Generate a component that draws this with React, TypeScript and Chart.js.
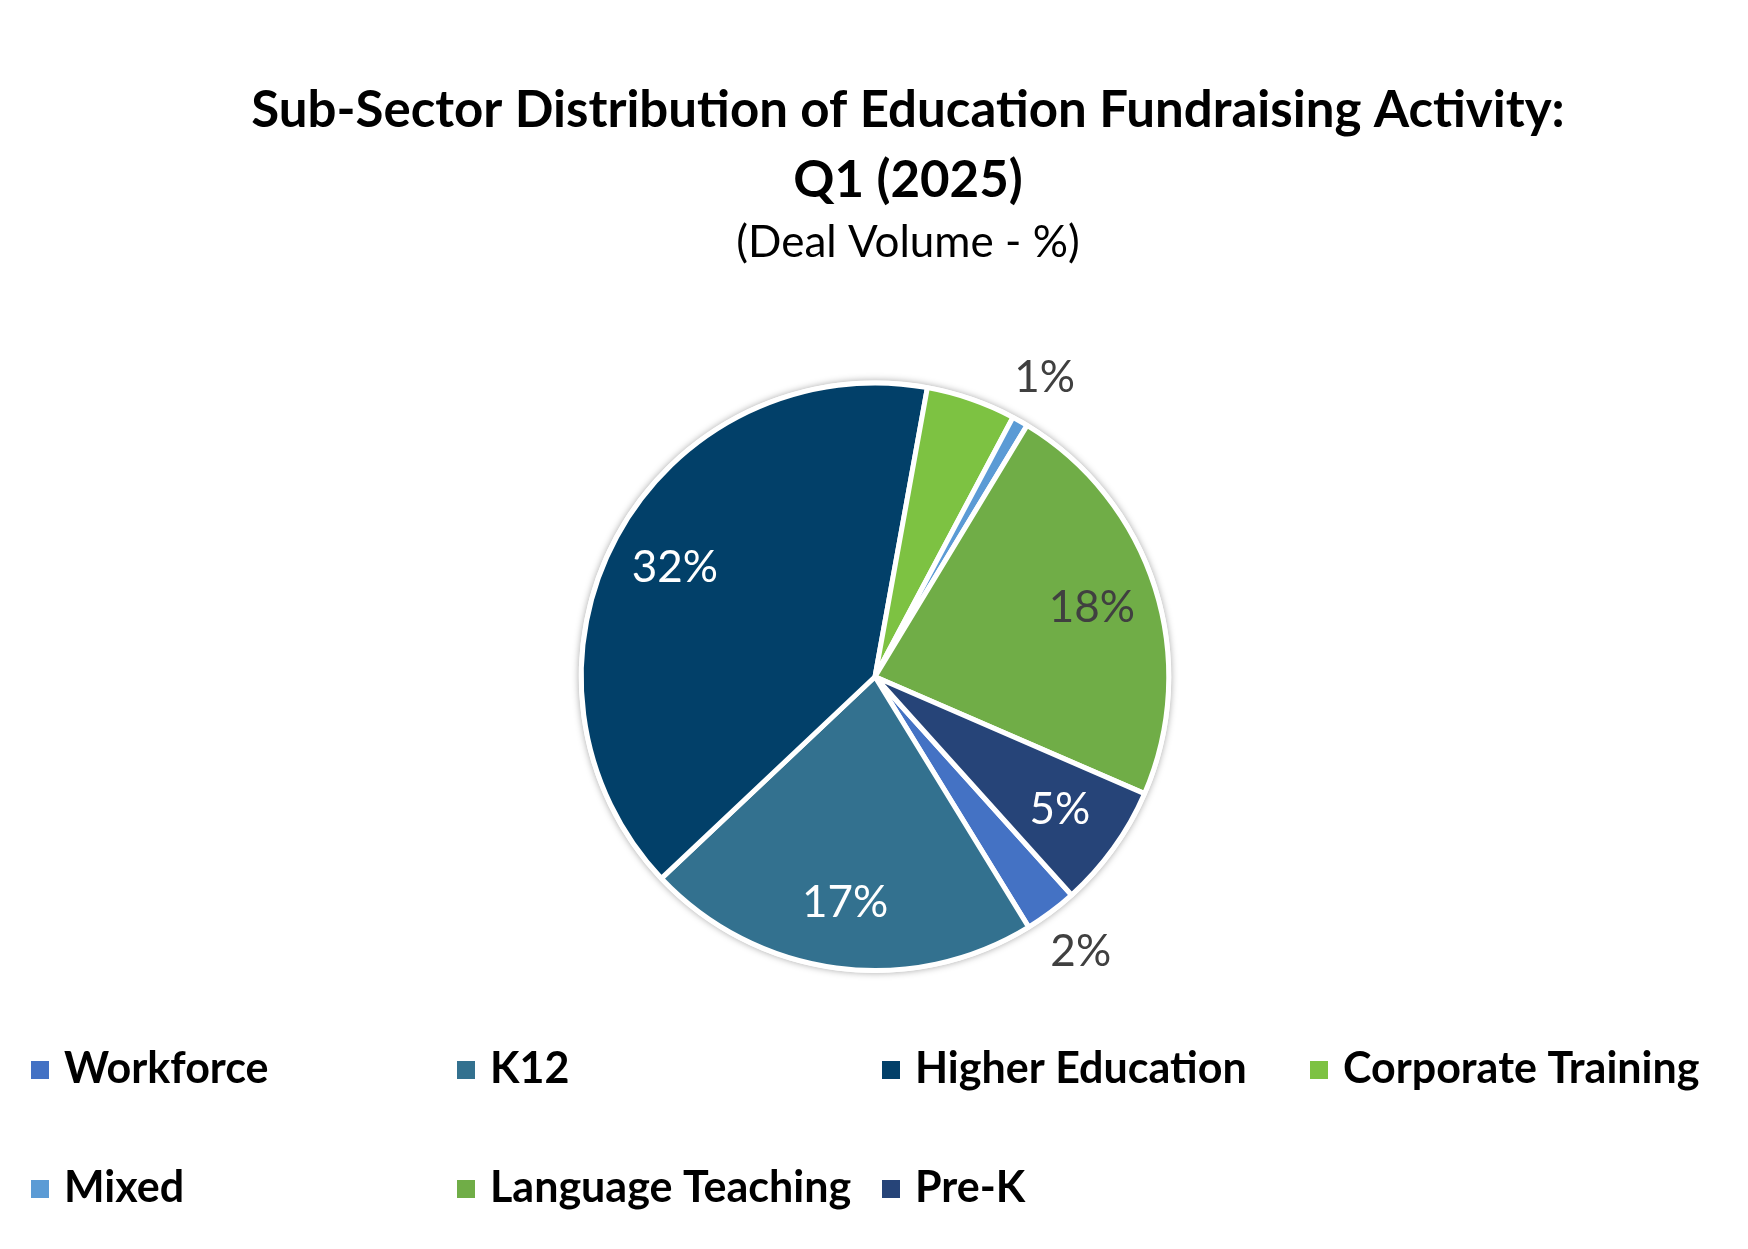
import React, { useEffect, useRef } from "react";
import { Chart, registerables, layouts } from "chart.js";

Chart.register(...registerables);

// ---------- data ----------
const categories = [
  "Workforce",
  "K12",
  "Higher Education",
  "Corporate Training",
  "Mixed",
  "Language Teaching",
  "Pre-K",
];
const dealVolumePct = [2.3, 17.2, 31.6, 3.9, 0.7, 18.1, 5.4];
const sliceColors = ["#4472C4", "#33718F", "#024069", "#7DC242", "#5B9BD5", "#70AD47", "#264478"];
const hiddenLabels = ["Corporate Training"];
const outsideLabels = ["Workforce", "Mixed"];
const darkLabels = ["Language Teaching", "Workforce", "Mixed"];
const titleLines = ["Sub-Sector Distribution of Education Fundraising Activity:", "Q1 (2025)"];
const subtitleText = "(Deal Volume - %)";

const FONT = "Lato";
const BORDER = 5;

// right spacer so the pie sits left of the title centre
const spacerPlugin = {
  id: "rightSpacer",
  beforeInit(chart: any) {
    const box: any = {
      position: "right",
      weight: 0,
      fullSize: false,
      options: {},
      width: 0,
      height: 0,
      left: 0,
      top: 0,
      right: 0,
      bottom: 0,
      isHorizontal: () => false,
      update(_maxWidth: number, maxHeight: number) {
        box.width = 66;
        box.height = maxHeight;
      },
      draw() {},
    };
    layouts.addBox(chart, box);
  },
};

const shadowPlugin = {
  id: "pieShadow",
  beforeDatasetsDraw(chart: any) {
    const meta = chart.getDatasetMeta(0);
    if (!meta.data.length) return;
    const { x, y, outerRadius } = meta.data[0].getProps(["x", "y", "outerRadius"], true);
    const ctx = chart.ctx;
    ctx.save();
    ctx.beginPath();
    ctx.arc(x, y, outerRadius + BORDER / 2, 0, Math.PI * 2);
    ctx.fillStyle = "#ffffff";
    ctx.shadowColor = "rgba(0,0,0,0.35)";
    ctx.shadowBlur = 7;
    ctx.fill();
    ctx.restore();
  },
};

const labelPlugin = {
  id: "sliceLabels",
  afterDatasetsDraw(chart: any) {
    const ctx = chart.ctx;
    const meta = chart.getDatasetMeta(0);
    const data = chart.data.datasets[0].data as number[];
    ctx.save();
    ctx.font = `400 44px ${FONT}`;
    ctx.textAlign = "center";
    ctx.textBaseline = "middle";
    meta.data.forEach((arc: any, i: number) => {
      const name = chart.data.labels[i] as string;
      if (hiddenLabels.includes(name)) return;
      const { x, y, startAngle, endAngle, outerRadius } = arc.getProps(
        ["x", "y", "startAngle", "endAngle", "outerRadius"],
        true
      );
      const mid = (startAngle + endAngle) / 2;
      const k = outsideLabels.includes(name) ? 1.17 : 0.775;
      ctx.fillStyle = darkLabels.includes(name) ? "#404040" : "#FFFFFF";
      ctx.fillText(
        Math.round(data[i]) + "%",
        x + Math.cos(mid) * outerRadius * k,
        y + Math.sin(mid) * outerRadius * k
      );
    });
    ctx.restore();
  },
};

const legendPlugin = {
  id: "gridLegend",
  afterDraw(chart: any) {
    const ctx = chart.ctx;
    const cols = [31, 457, 882, 1310];
    const baselines = [1083, 1202];
    const perRow = 4;
    const box = 18;
    const labels = chart.data.labels as string[];
    const colors = chart.data.datasets[0].backgroundColor as string[];
    ctx.save();
    ctx.font = `700 43px ${FONT}`;
    ctx.textAlign = "left";
    ctx.textBaseline = "alphabetic";
    labels.forEach((lab, i) => {
      const cx = cols[i % perRow];
      const by = baselines[Math.floor(i / perRow)];
      ctx.fillStyle = colors[i];
      ctx.fillRect(cx, by - 22, box, box);
      ctx.fillStyle = "#000000";
      ctx.fillText(lab, cx + 33, by);
    });
    ctx.restore();
  },
};

export default function App() {
  const ref = useRef<HTMLCanvasElement>(null);
  useEffect(() => {
    document.body.style.margin = "0";
    if (!ref.current) return;
    const chart = new Chart(ref.current, {
      type: "pie",
      data: {
        labels: categories,
        datasets: [
          {
            data: dealVolumePct,
            backgroundColor: sliceColors,
            borderColor: "#FFFFFF",
            borderWidth: BORDER,
          },
        ],
      },
      options: {
        responsive: false,
        animation: false,
        rotation: 138,
        layout: { padding: { top: 0, left: 68, right: 0, bottom: 276 } },
        plugins: {
          legend: { display: false },
          tooltip: { enabled: false },
          title: {
            display: true,
            text: titleLines,
            color: "#000000",
            font: { family: FONT, size: 51, weight: "bold", lineHeight: 1.373 },
            padding: { top: 76, bottom: 0 },
          },
          subtitle: {
            display: true,
            text: subtitleText,
            color: "#000000",
            font: { family: FONT, size: 44, weight: "normal", lineHeight: 1.2 },
            padding: { top: 0, bottom: 111.6 },
          },
        },
      } as any,
      plugins: [spacerPlugin, shadowPlugin, labelPlugin, legendPlugin],
    });
    const fonts: any = (document as any).fonts;
    if (fonts && fonts.load) {
      Promise.all([fonts.load(`bold 51px ${FONT}`), fonts.load(`400 44px ${FONT}`)])
        .then(() => chart.update())
        .catch(() => {});
    }
    return () => chart.destroy();
  }, []);
  return (
    <div style={{ position: "absolute", left: 0, top: 0, width: 1748, height: 1249, background: "#FFFFFF" }}>
      <canvas ref={ref} width={1748} height={1249} />
    </div>
  );
}
